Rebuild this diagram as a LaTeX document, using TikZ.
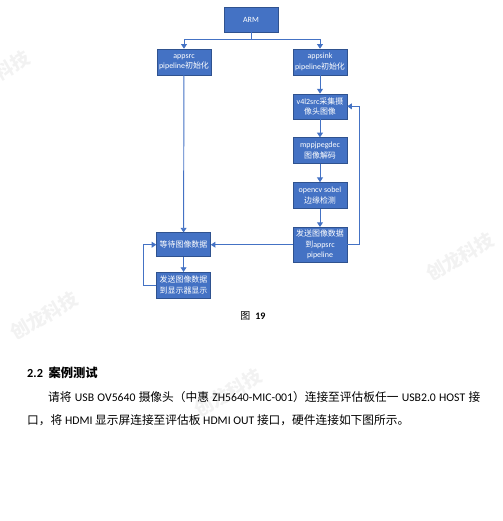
\documentclass[tikz,border=0pt]{standalone}
\usepackage{fontspec}
\setmainfont{Carlito}
\newfontfamily\cjk{Noto Sans CJK SC}
\usetikzlibrary{positioning, arrows.meta}
\definecolor{boxblue}{RGB}{68, 114, 196}
\definecolor{boxedge}{RGB}{47, 82, 143}

\begin{document}
\begin{tikzpicture}[x=0.03cm, y=-0.03cm, node distance=0.55cm,
    every node/.style={align=center},
    stepbox/.style={draw=boxedge, fill=boxblue, text=white, minimum width=1.62cm, minimum height=0.78cm, inner sep=1pt, font=\fontsize{6.8}{9}\selectfont},
    link/.style={draw=boxblue, line width=0.8pt, -{Triangle[width=5pt, length=4pt]}},
    wmark/.style={text=black!5, rotate=30, font=\cjk\bfseries\fontsize{16}{16}\selectfont},
    bodytext/.style={anchor=west, inner sep=0pt, font=\fontsize{10}{12}\selectfont}]
    \useasboundingbox (0,0) rectangle (503,521);

    % watermarks
    \node[wmark] (wm1) at (-4,75) {创龙科技};
    \node[wmark] (wm2) at (460,257) {创龙科技};
    \node[wmark] (wm3) at (44,316) {创龙科技};
    \node[wmark] (wm4) at (228,393) {创龙科技};
    \node[wmark] (wm5) at (515,532) {创龙科技};

    % flow chart
    \node[stepbox, minimum height=0.75cm] (arm) at (251,19.5) {ARM};
    \node[stepbox] (appsrc) at (184,62) {appsrc\\pipeline{\cjk 初始化}};
    \node[stepbox] (appsink) at (320,62) {appsink\\pipeline{\cjk 初始化}};
    \node[stepbox, minimum height=0.75cm, below=of appsink] (v4l2) {v4l2src{\cjk 采集摄}\\{\cjk 像头图像}};
    \node[stepbox, below=of v4l2] (mpp) {mppjpegdec\\{\cjk 图像解码}};
    \node[stepbox, below=of mpp] (sobel) {opencv sobel\\{\cjk 边缘检测}};
    \node[stepbox, minimum height=1.05cm, below=of sobel] (send) {{\cjk 发送图像数据}\\{\cjk 到}appsrc\\pipeline};
    \node[stepbox, minimum height=0.72cm, left=2.46cm of send] (wait) {{\cjk 等待图像数据}};
    \node[stepbox, below=0.45cm of wait] (disp) {{\cjk 发送图像数据}\\{\cjk 到显示器显示}};

    \coordinate (split) at (251,39);
    \draw[boxblue, line width=0.8pt] (arm) -- (split);
    \draw[link] (split) -| (appsrc);
    \draw[link] (split) -| (appsink);
    \draw[link] (appsink) -- (v4l2);
    \draw[link] (v4l2) -- (mpp);
    \draw[link] (mpp) -- (sobel);
    \draw[link] (sobel) -- (send);
    \draw[link] (send.east) -- ++(12,0) |- (v4l2.east);
    \draw[link] (send) -- (wait);
    \draw[link] (appsrc) -- (wait);
    \draw[link] (wait) -- (disp);
    \draw[link] (disp.west) -- ++(-13,0) |- (wait.west);

    % caption and text
    \node[font=\fontsize{8.5}{10}\selectfont] (cap) at (253,316) {{\cjk 图}\hspace{0.5em}\textbf{19}};
    \node[anchor=west, inner sep=0pt, font=\fontsize{10.5}{12}\selectfont\bfseries] (head) at (27,373) {2.2\hspace{0.45em}{\cjk 案例测试}};
    \node[bodytext] (line1) at (48,397) {\makebox[12.96cm][s]{{\cjk 请将} USB OV5640 {\cjk 摄像头（中惠} ZH5640-MIC-001{\cjk ）连接至评估板任一} USB2.0 HOST {\cjk 接}}};
    \node[bodytext] (line2) at (27,420) {{\cjk 口，将} HDMI {\cjk 显示屏连接至评估板} HDMI OUT {\cjk 接口，硬件连接如下图所示。}};
\end{tikzpicture}
\end{document}
